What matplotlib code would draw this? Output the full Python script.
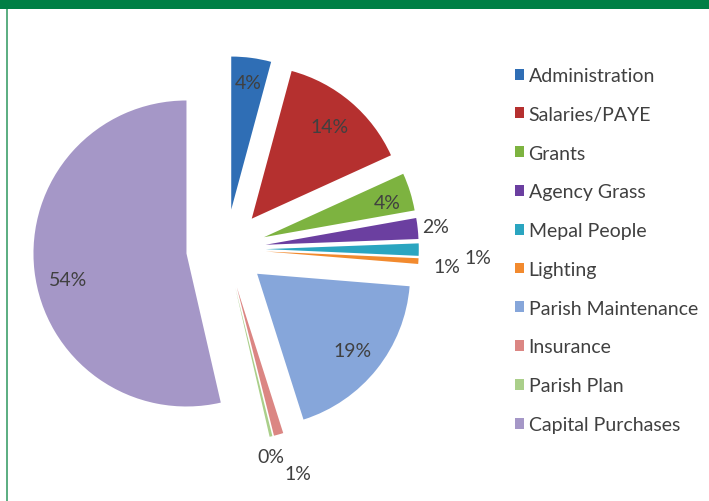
import numpy as np
import matplotlib
matplotlib.use('Agg')
from matplotlib import pyplot as plt
from matplotlib.patches import Rectangle, Patch
from matplotlib.lines import Line2D

# data (percent of total spend)
categories = ['Administration', 'Salaries/PAYE', 'Grants', 'Agency Grass',
              'Mepal People', 'Lighting', 'Parish Maintenance', 'Insurance',
              'Parish Plan', 'Capital Purchases']
values = [4.2, 14.0, 4.0, 2.2, 1.3, 0.6, 18.8, 1.0, 0.3, 53.6]

colors = ['#2F6EB5', '#B5302F', '#7DB340', '#6B3FA0', '#2AA5C0',
          '#F28A2E', '#86A6DA', '#DB8683', '#AACF8A', '#A597C7']
# where each percentage sits: fraction of radius from the slice tip, angle nudge
label_r = [0.84, 0.79, 0.84, 1.12, 1.39, 1.19, 0.80, 1.28, 1.13, 0.79]
label_da = [0, 0, -1.5, 0, -2.2, -1.0, 0, 2.4, -1.6, 5.9]

W, H = 709, 502
R = 153.0          # pie radius in pixels
cx, cy = 226, 250  # pie centre in pixels (from top left)

plt.rcParams['font.family'] = ['Lato', 'DejaVu Sans']
text_col = '#404040'

fig = plt.figure(figsize=(W / 100, H / 100), dpi=100)
ax = fig.add_axes([0, 0, 1, 1])

wedges, _ = ax.pie(values, colors=colors, startangle=90, counterclock=False,
                   explode=[0.26] * len(values),
                   wedgeprops=dict(linewidth=0))

total = float(sum(values))
for w, v, f, da in zip(wedges, values, label_r, label_da):
    a = np.deg2rad((w.theta1 + w.theta2) / 2 + da)
    x0, y0 = w.center
    ax.text(x0 + f * np.cos(a), y0 + f * np.sin(a), '%.0f%%' % (100 * v / total),
            ha='center', va='center', fontsize=14, color=text_col)

ax.set_xlim(-cx / R, (W - cx) / R)
ax.set_ylim(-(H - cy) / R, cy / R)
ax.set_aspect('equal')
ax.axis('off')

handles = [Patch(facecolor=c, edgecolor='none') for c in colors]
leg = fig.legend(handles, categories, loc='upper left',
                 bbox_to_anchor=(515 / W, 1 - 68 / H),
                 frameon=False, fontsize=14, labelspacing=1.12,
                 handlelength=0.48, handleheight=0.48, handletextpad=0.22,
                 borderpad=0, borderaxespad=0)
for t in leg.get_texts():
    t.set_color(text_col)

# green frame pieces
fig.patches.append(Rectangle((0, 1 - 10 / H), 1, 10 / H, transform=fig.transFigure,
                             facecolor='#007F45', edgecolor='none', zorder=5))
fig.lines.append(Line2D([7.5 / W, 7.5 / W], [0, 1], transform=fig.transFigure,
                        color='#3E9F6B', linewidth=1.2, zorder=5))

fig.savefig('out.png', dpi=100)
